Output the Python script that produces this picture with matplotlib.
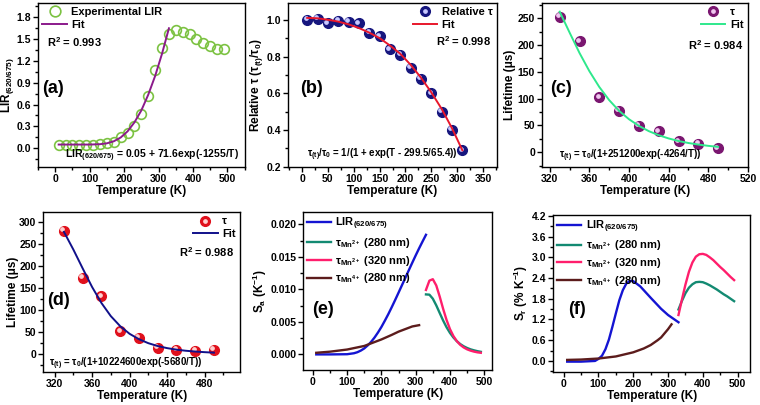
import numpy as np
import matplotlib
matplotlib.use('Agg')
import matplotlib.pyplot as plt
from matplotlib.ticker import AutoMinorLocator, MultipleLocator, FormatStrFormatter
from matplotlib.transforms import offset_copy
from matplotlib.lines import Line2D

plt.rcParams['font.family'] = ['Liberation Sans', 'DejaVu Sans']
plt.rcParams['font.weight'] = 'bold'
plt.rcParams['axes.labelweight'] = 'bold'
plt.rcParams['mathtext.fontset'] = 'custom'
plt.rcParams['mathtext.default'] = 'regular'
plt.rcParams['axes.linewidth'] = 1.0

# (a) LIR vs temperature
t_a = [10, 30, 50, 70, 90, 110, 130, 150, 170, 190, 210, 230, 250, 270, 290, 310,
       330, 350, 370, 390, 410, 430, 450, 470, 490]
lir_a = [0.04, 0.04, 0.04, 0.04, 0.05, 0.05, 0.06, 0.07, 0.08, 0.15, 0.21, 0.31, 0.47,
         0.72, 1.07, 1.38, 1.57, 1.63, 1.60, 1.57, 1.50, 1.45, 1.41, 1.37, 1.37]
tfit_a = [10, 50, 100, 130, 150, 170, 190, 210, 230, 250, 270, 290, 310, 330]
fit_a = [0.05, 0.05, 0.05, 0.055, 0.067, 0.095, 0.147, 0.232, 0.356, 0.52, 0.736,
         0.994, 1.30, 1.65]

# (b) relative lifetime
t_b = [10, 30, 50, 70, 90, 110, 130, 150, 170, 190, 210, 230, 250, 270, 290, 310]
rel_b = [1.00, 1.005, 0.98, 0.995, 0.99, 0.98, 0.93, 0.91, 0.84, 0.81, 0.74, 0.68,
         0.60, 0.50, 0.40, 0.29]
tfit_b = [10, 30, 50, 70, 90, 110, 130, 150, 170, 190, 210, 230, 250, 270, 290, 310]
fit_b = [1.01, 1.008, 1.0, 0.99, 0.975, 0.955, 0.93, 0.90, 0.86, 0.815, 0.755, 0.685,
         0.605, 0.515, 0.41, 0.29]

# (c) lifetime, Mn2+ 280 nm
t_c = [330, 350, 370, 390, 410, 430, 450, 470, 490]
tau_c = [253, 207, 102, 77, 49, 39, 20, 15, 7]
tfit_cd = [330, 340, 350, 360, 370, 380, 390, 400, 410, 420, 430, 440, 450, 460, 470, 480, 490]
fit_c = [262, 223, 185, 151, 121.5, 97, 77, 61.4, 49, 39.2, 31.6, 25.6, 20.8, 17.1,
         14.2, 11.8, 9.9]

# (d) lifetime, Mn2+ 320 nm
t_d = [330, 350, 370, 390, 410, 430, 450, 470, 490]
tau_d = [281, 174, 132, 52, 38, 15, 10, 8, 10]
fit_d = [278, 238, 195, 153, 116.6, 86.8, 64, 46.7, 34.4, 25.4, 18.9, 14.2, 10.7, 8.2,
         6.4, 5.0, 3.9]

# (e) absolute sensitivity
t_lir = [10, 50, 100, 120, 130, 140, 150, 160, 170, 180, 190, 200, 210, 220, 230, 240,
         250, 260, 270, 280, 290, 300, 310, 320, 330]
sa_lir = [0.0, 0.0, 0.00003, 0.00018, 0.00034, 0.00059, 0.00092, 0.00138, 0.00193,
          0.0026, 0.00337, 0.00422, 0.00518, 0.00618, 0.00725, 0.00836, 0.0095, 0.01065,
          0.0118, 0.01296, 0.0141, 0.01523, 0.01632, 0.01737, 0.0184]
sa_mn2_280 = [0.00923, 0.00919, 0.00857, 0.00755, 0.00638, 0.00522, 0.00418, 0.00331,
              0.0026, 0.00203, 0.00159, 0.00125, 0.00099, 0.00078, 0.00063, 0.0005, 0.0004]
sa_mn2_320 = [0.00992, 0.01135, 0.01157, 0.01061, 0.00891, 0.00702, 0.00531, 0.00389,
              0.00283, 0.00204, 0.00147, 0.00107, 0.00078, 0.00058, 0.00043, 0.00032,
              0.00025]
t_mn4 = [10, 50, 100, 150, 200, 230, 250, 270, 280, 290, 300, 310]
sa_mn4 = [0.00025, 0.00042, 0.00075, 0.0013, 0.0023, 0.003, 0.0035, 0.0039, 0.0041,
          0.0043, 0.0044, 0.0045]

# (f) relative sensitivity
t_lir_f = [10, 50, 90, 100, 110, 120, 130, 140, 150, 160, 170, 180, 190, 200, 220, 250,
           280, 300, 330]
sr_lir = [-0.02, -0.02, 0.0, 0.06, 0.15, 0.34, 0.62, 0.99, 1.38, 1.76, 2.05, 2.24, 2.32,
          2.31, 2.16, 1.83, 1.51, 1.33, 1.12]
sr_mn2_280 = [1.49, 1.74, 1.96, 2.12, 2.22, 2.28, 2.29, 2.28, 2.24, 2.19, 2.13, 2.07,
              2.0, 1.93, 1.87, 1.80, 1.73]
sr_mn2_320 = [1.33, 1.78, 2.21, 2.58, 2.85, 3.02, 3.09, 3.10, 3.07, 3.0, 2.92, 2.82,
              2.72, 2.63, 2.53, 2.43, 2.34]
sr_mn4 = [0.03, 0.04, 0.07, 0.13, 0.25, 0.36, 0.46, 0.6, 0.68, 0.8, 0.92, 1.06]

fig = plt.figure(figsize=(7.6, 4.05), dpi=100)


def style(ax, xlim, ylim, xmaj, ymaj):
    ax.set_xlim(*xlim)
    ax.set_ylim(*ylim)
    ax.xaxis.set_major_locator(MultipleLocator(xmaj))
    ax.yaxis.set_major_locator(MultipleLocator(ymaj))
    ax.xaxis.set_minor_locator(AutoMinorLocator(2))
    ax.yaxis.set_minor_locator(AutoMinorLocator(2))
    ax.tick_params(which='both', direction='out', top=False, right=False, labelsize=7.5,
                   width=1.0, pad=1.5)
    ax.tick_params(which='major', length=3.5)
    ax.tick_params(which='minor', length=2)
    ax.set_xlabel('Temperature (K)', fontsize=8.5, labelpad=1)


def balls(ax, x, y, color, light):
    ax.plot(x, y, 'o', ms=7, color=color, mec=color, zorder=3)
    tr = offset_copy(ax.transData, fig=fig, x=-1.2, y=1.2, units='points')
    ax.plot(x, y, 'o', ms=2.4, color=light, mec=light, transform=tr, zorder=4)
    h1 = Line2D([], [], ls='none', marker='o', ms=7, color=color)
    h2 = Line2D([], [], ls='none', marker='o', ms=2.4, color=light)
    return (h1, h2)


# ---- (a)
ax = fig.add_axes([0.05, 0.588, 0.272, 0.405])
ax.plot(t_a, lir_a, 'o', ms=7, mfc='none', mec='#7cc242', mew=1.2, label='Experimental LIR')
ax.plot(tfit_a, fit_a, color='#8b1a8b', lw=1.4, label='Fit')
style(ax, (-50, 550), (-0.257, 2.0), 100, 0.3)
ax.set_ylabel('LIR$_{(620/675)}$', fontsize=8.5, labelpad=0)
ax.legend(loc='upper left', frameon=False, fontsize=8, handlelength=2.2,
          borderpad=0.2, labelspacing=0.25, handletextpad=0.4, borderaxespad=0.2,
          markerscale=1.1)
ax.text(0.045, 0.76, 'R$^2$ = 0.993', transform=ax.transAxes, fontsize=8, va='center')
ax.text(0.02, 0.48, '(a)', transform=ax.transAxes, fontsize=13, va='center')
ax.text(0.975, 0.067, 'LIR$_{(620/675)}$ = 0.05 + 71.6exp(-1255/T)', transform=ax.transAxes,
        fontsize=7.5, va='center', ha='right')

# ---- (b)
ax = fig.add_axes([0.379, 0.588, 0.275, 0.405])
hb = balls(ax, t_b, rel_b, '#16167e', '#c8c8ff')
lf, = ax.plot(tfit_b, fit_b, color='#e8172b', lw=1.4, zorder=5)
style(ax, (-27, 377), (0.2, 1.092), 50, 0.2)
ax.set_ylabel('Relative τ (τ$_{(t)}$/τ$_0$)', fontsize=8.5, labelpad=1)
ax.legend([hb, lf], ['Relative τ', 'Fit'], loc='upper right', frameon=False, fontsize=8,
          handlelength=2.2, borderpad=0.2, labelspacing=0.25, handletextpad=0.4,
          borderaxespad=0.2)
ax.text(0.97, 0.765, 'R$^2$ = 0.998', transform=ax.transAxes, fontsize=8, va='center', ha='right')
ax.text(0.057, 0.48, '(b)', transform=ax.transAxes, fontsize=13, va='center')
ax.text(0.45, 0.075, 'τ$_{(t)}$/τ$_0$ = 1/(1 + exp(T - 299.5/65.4))', transform=ax.transAxes,
        fontsize=7, va='center', ha='center')

# ---- (c)
ax = fig.add_axes([0.713, 0.588, 0.271, 0.405])
hc = balls(ax, t_c, tau_c, '#7a1670', '#f0c8f0')
lf, = ax.plot(tfit_cd, fit_c, color='#2ee88c', lw=1.4, zorder=5)
style(ax, (312, 520), (-27.4, 278.5), 40, 50)
ax.set_ylabel('Lifetime (μs)', fontsize=8.5, labelpad=1)
ax.legend([hc, lf], ['τ', 'Fit'], loc='upper right', frameon=False, fontsize=8,
          handlelength=2.2, borderpad=0.2, labelspacing=0.25, handletextpad=0.4,
          borderaxespad=0.2)
ax.text(0.98, 0.74, 'R$^2$ = 0.984', transform=ax.transAxes, fontsize=8, va='center', ha='right')
ax.text(0.04, 0.48, '(c)', transform=ax.transAxes, fontsize=13, va='center')
ax.text(0.43, 0.067, 'τ$_{(t)}$ = τ$_0$/(1+251200exp(-4264/T))', transform=ax.transAxes,
        fontsize=7, va='center', ha='center')

# ---- (d)
ax = fig.add_axes([0.057, 0.0815, 0.259, 0.395])
hd = balls(ax, t_d, tau_d, '#e0101c', '#ffd0d0')
lf, = ax.plot(tfit_cd, fit_d, color='#10108a', lw=1.4, zorder=5)
style(ax, (308, 518), (-40, 323), 40, 50)
ax.set_ylabel('Lifetime (μs)', fontsize=8.5, labelpad=0)
ax.legend([hd, lf], ['τ', 'Fit'], loc='upper right', frameon=False, fontsize=8,
          handlelength=2.2, borderpad=0.2, labelspacing=0.25, handletextpad=0.4,
          borderaxespad=0.2)
ax.text(0.97, 0.75, 'R$^2$ = 0.988', transform=ax.transAxes, fontsize=8, va='center', ha='right')
ax.text(0.02, 0.45, '(d)', transform=ax.transAxes, fontsize=13, va='center')
ax.text(0.42, 0.05, 'τ$_{(t)}$ = τ$_0$/(1+10224600exp(-5680/T))', transform=ax.transAxes,
        fontsize=7, va='center', ha='center')

# ---- (e)
ax = fig.add_axes([0.399, 0.0864, 0.249, 0.390])
ax.plot(t_lir, sa_lir, color='#1414d2', lw=1.7, label='LIR$_{(620/675)}$')
ax.plot(tfit_cd, sa_mn2_280, color='#138a72', lw=1.7, label='τ$_{Mn^{2+}}$ (280 nm)')
ax.plot(tfit_cd, sa_mn2_320, color='#ff1e6c', lw=1.7, label='τ$_{Mn^{2+}}$ (320 nm)')
ax.plot(t_mn4, sa_mn4, color='#5c1c1c', lw=1.7, label='τ$_{Mn^{4+}}$ (280 nm)')
style(ax, (-28, 524), (-0.0024, 0.0219), 100, 0.005)
ax.yaxis.set_major_formatter(FormatStrFormatter('%.3f'))
ax.set_ylabel('S$_a$ (K$^{-1}$)', fontsize=8.5, labelpad=1)
ax.legend(loc='upper left', frameon=False, fontsize=8, handlelength=2.2, borderpad=0.2,
          labelspacing=0.35, handletextpad=0.4, borderaxespad=0.1)
ax.text(0.048, 0.38, '(e)', transform=ax.transAxes, fontsize=13, va='center')

# ---- (f)
ax = fig.add_axes([0.728, 0.0815, 0.259, 0.388])
ax.plot(t_lir_f, sr_lir, color='#1414d2', lw=1.7, label='LIR$_{(620/675)}$')
ax.plot(tfit_cd, sr_mn2_280, color='#138a72', lw=1.7, label='τ$_{Mn^{2+}}$ (280 nm)')
ax.plot(tfit_cd, sr_mn2_320, color='#ff1e6c', lw=1.7, label='τ$_{Mn^{2+}}$ (320 nm)')
ax.plot(t_mn4, sr_mn4, color='#5c1c1c', lw=1.7, label='τ$_{Mn^{4+}}$ (280 nm)')
style(ax, (-30, 536), (-0.32, 4.23), 100, 0.6)
ax.set_ylabel('S$_r$ (% K$^{-1}$)', fontsize=8.5, labelpad=1)
ax.legend(loc='upper left', frameon=False, fontsize=8, handlelength=2.2, borderpad=0.2,
          labelspacing=0.35, handletextpad=0.4, borderaxespad=0.1)
ax.text(0.076, 0.395, '(f)', transform=ax.transAxes, fontsize=13, va='center')

fig.savefig('out.png', dpi=100)
